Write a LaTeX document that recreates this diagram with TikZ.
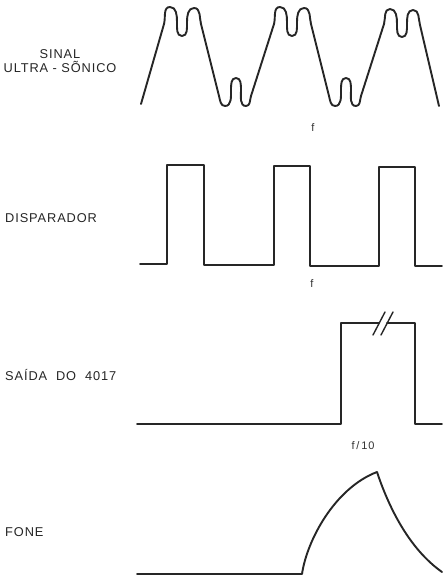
\documentclass[tikz,border=0pt]{standalone}
\usepackage{fontspec}
\setmainfont{Liberation Sans}
\newfontfamily\lblfont[LetterSpace=7]{Liberation Sans}
\begin{document}
\begin{tikzpicture}[x=1pt,y=-1pt,
  wave/.style={line width=1.9pt,draw=black!85,line cap=round,line join=round},
  lbl/.style={inner sep=0pt,font=\lblfont\fontsize{12.8}{15}\selectfont,anchor=west,text=black!85},
  flbl/.style={inner sep=0pt,font=\lblfont\fontsize{11}{13}\selectfont,text=black!80}]
\useasboundingbox (0,0) rectangle (444,579);
\fill[white] (0,0) rectangle (444,579);

% labels
\node[lbl,anchor=center,align=center] (sinal) at (60,61) {SINAL\\[-1pt]ULTRA - S\~ONICO};
\node[lbl] (disp) at (5,218) {DISPARADOR};
\node[lbl] (saida) at (5,375) {SA\'IDA\ \ DO\ \ 4017};
\node[lbl] (fone) at (5,532) {FONE};
\node[flbl] (f1) at (313,128) {f};
\node[flbl] (f2) at (312,284) {f};
\node[flbl] (f3) at (363,446) {f\,/\,10};

% ultrasonic signal
\draw[wave] (141,104) -- (164,24)
  foreach \o in {0,110} {
    to[out=75,in=180] ({\o+170},7) to[out=0,in=90] ({\o+177},22)
    to[out=-90,in=180] ({\o+182},36) to[out=0,in=-90] ({\o+187},22)
    to[out=90,in=180] ({\o+194},8) to[out=0,in=105] ({\o+201},24)
    -- ({\o+219},96) to[out=-75,in=180] ({\o+225},106)
    to[out=0,in=-90] ({\o+231},90) to[out=90,in=180] ({\o+236},78)
    to[out=0,in=90] ({\o+241},90) to[out=-90,in=180] ({\o+246},106)
    to[out=0,in=-107] ({\o+251},96) -- ({\o+274},24)
  }
  to[out=75,in=180] (390,9) to[out=0,in=90] (397,24)
  to[out=-90,in=180] (402,37) to[out=0,in=-90] (407,24)
  to[out=90,in=180] (413,10) to[out=0,in=105] (420,25)
  -- (439,106);

% trigger
\draw[wave] (140,264) -- (167,264) -- (167,165) -- (204,165) -- (204,265)
  -- (274,265) -- (274,166) -- (310,166) -- (310,266) -- (379,266)
  -- (379,167) -- (415,167) -- (415,266) -- (442,266);

% 4017 output
\draw[wave] (137,424) -- (341,424) -- (341,323) -- (379,323);
\draw[wave] (387,323) -- (415,323) -- (415,424) -- (442,424);
\draw[wave,line width=1.4pt] (373,335) -- (385,312);
\draw[wave,line width=1.4pt] (381,335) -- (393,312);

% phone
\draw[wave] (137,574) -- (302,574)
  .. controls (307,540) and (335,488) .. (377,472)
  .. controls (388,505) and (408,548) .. (442,572);
\end{tikzpicture}
\end{document}
